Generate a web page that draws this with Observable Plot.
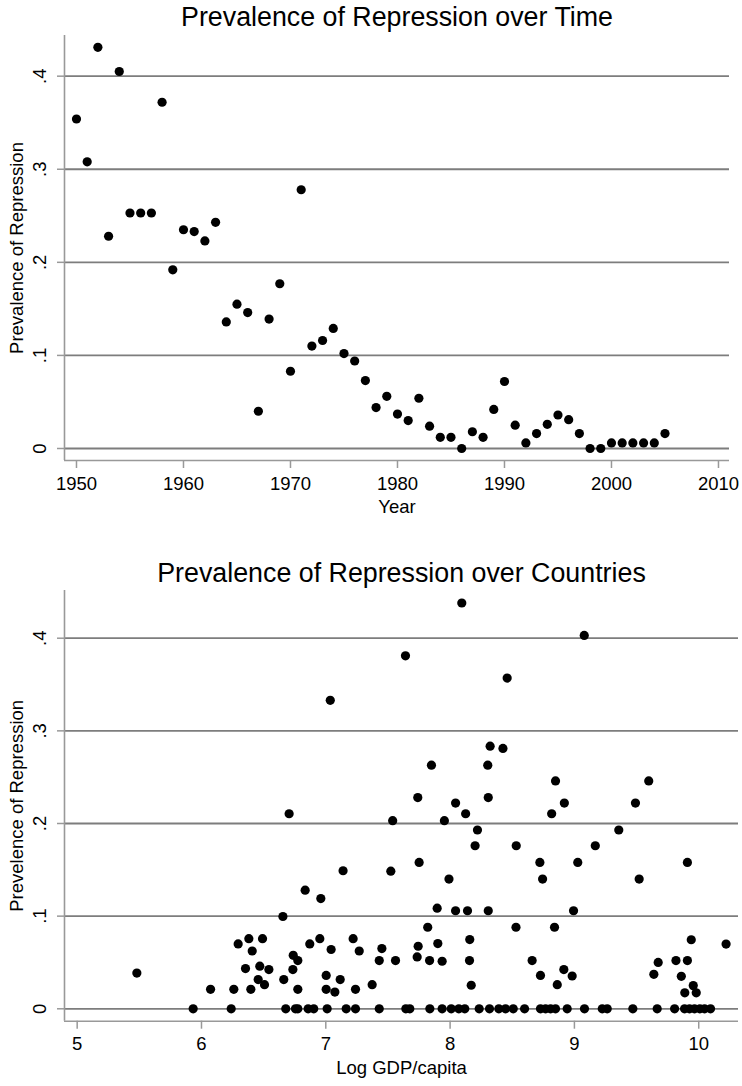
<!DOCTYPE html>
<html>
<head>
<meta charset="utf-8">
<script src="https://cdn.jsdelivr.net/npm/d3@7"></script>
<script src="https://cdn.jsdelivr.net/npm/@observablehq/plot@0.6"></script>
<style>
  html, body { margin: 0; padding: 0; background: #fff; }
  svg { display: block; }
</style>
</head>
<body>
<div id="chart"></div>
<script>
// ---------- Data: top panel ----------
const years = [1950,1951,1952,1953,1954,1955,1956,1957,1958,1959,1960,1961,1962,1963,1964,1965,1966,1967,1968,1969,1970,1971,1972,1973,1974,1975,1976,1977,1978,1979,1980,1981,1982,1983,1984,1985,1986,1987,1988,1989,1990,1991,1992,1993,1994,1995,1996,1997,1998,1999,2000,2001,2002,2003,2004,2005];
const prevYear = [0.354,0.308,0.431,0.228,0.405,0.253,0.253,0.253,0.372,0.192,0.235,0.233,0.223,0.243,0.136,0.155,0.146,0.040,0.139,0.177,0.083,0.278,0.110,0.116,0.129,0.102,0.094,0.073,0.044,0.056,0.037,0.030,0.054,0.024,0.012,0.012,0.000,0.018,0.012,0.042,0.072,0.025,0.006,0.016,0.026,0.036,0.031,0.016,0.000,0.000,0.006,0.006,0.006,0.006,0.006,0.016];
const yearTicks = [1950,1960,1970,1980,1990,2000,2010];

// ---------- Data: bottom panel ----------
const gdpZero = [5.933,6.239,6.678,6.756,6.775,6.858,6.903,7.011,7.164,7.239,7.430,7.644,7.676,7.837,7.936,8.009,8.070,8.118,8.234,8.317,8.392,8.446,8.508,8.599,8.727,8.768,8.808,8.848,8.942,9.081,9.224,9.264,9.470,9.666,9.806,9.886,9.926,9.966,10.009,10.047,10.095];
const gdpLow  = [5.48,6.073,6.260,6.397,6.295,6.381,6.491,6.408,6.354,6.469,6.542,6.456,6.507,6.662,6.738,6.775,6.735,6.775,6.871,6.952,7.043,7.003,7.003,7.073,7.116,7.220,7.269,7.239,7.373,7.451,7.430,7.561,7.743,7.735,7.835,7.901,7.936,8.158,8.156,8.170,8.660,8.727,8.915,8.982,8.862,9.639,9.674,9.817,9.909,9.860,9.94,10.22,9.956,9.888,9.980];
const prevLow = [0.0385,0.021,0.021,0.021,0.070,0.0757,0.0757,0.0624,0.0434,0.046,0.0423,0.0315,0.026,0.0315,0.0577,0.052,0.0423,0.021,0.070,0.0757,0.064,0.036,0.021,0.018,0.0315,0.0757,0.0624,0.021,0.026,0.065,0.052,0.052,0.0675,0.056,0.052,0.0704,0.0513,0.0747,0.052,0.0254,0.052,0.036,0.0423,0.0354,0.026,0.0372,0.050,0.052,0.052,0.035,0.0745,0.0698,0.025,0.0172,0.0172];
const gdpHigh  = [8.094,9.079,7.641,8.459,7.036,8.322,8.425,7.850,8.303,8.848,9.598,7.740,8.307,8.044,8.919,9.491,6.705,8.125,8.817,7.538,7.954,8.220,9.357,8.201,8.532,9.168,7.751,8.722,9.027,9.909,7.139,7.523,7.991,8.744,9.521,6.834,6.960,7.896,8.044,8.140,8.307,8.993,6.655,7.82,8.53,8.84];
const prevHigh = [0.438,0.403,0.381,0.357,0.333,0.2835,0.281,0.263,0.263,0.246,0.246,0.228,0.228,0.222,0.222,0.222,0.2105,0.2105,0.2105,0.203,0.203,0.193,0.193,0.176,0.176,0.176,0.158,0.158,0.158,0.158,0.149,0.1485,0.140,0.140,0.140,0.128,0.119,0.1086,0.1058,0.1058,0.1058,0.1058,0.0996,0.088,0.088,0.088];
const gdpTicks = [5,6,7,8,9,10];
const prevTicks = [0,0.1,0.2,0.3,0.4];

// ---------- Build tables ----------
const timeData = years.map((y, i) => ({year: y, prev: prevYear[i]}));
const countryData = [
  ...gdpZero.map(g => ({gdp: g, prev: 0})),
  ...gdpLow.map((g, i) => ({gdp: g, prev: prevLow[i]})),
  ...gdpHigh.map((g, i) => ({gdp: g, prev: prevHigh[i]}))
];

const FONT = "'Liberation Sans', Arial, Helvetica, sans-serif";
const GRID = "#7d7d7d";
const AXIS = "#999999";
const fmtY = d => d === 0 ? "0" : String(d).replace(/^0/, "");

function panel({data, xKey, xDomain, xTicks, yDomain, height, margins, title, titleDy, xLabel, yLabel}) {
  return Plot.plot({
    width: 742,
    height,
    marginLeft: margins[0], marginRight: margins[1], marginTop: margins[2], marginBottom: margins[3],
    style: {fontFamily: FONT, background: "white", color: "black"},
    x: {domain: xDomain},
    y: {domain: yDomain},
    marks: [
      Plot.ruleY(prevTicks, {stroke: GRID, strokeWidth: 1.8}),
      Plot.ruleX([xDomain[0]], {stroke: AXIS, strokeWidth: 1.6}),
      Plot.ruleY([yDomain[0]], {stroke: AXIS, strokeWidth: 1.6}),
      Plot.axisX({ticks: xTicks, tickSize: 8, tickPadding: 8, tickFormat: d => String(d), fontSize: 18.5, stroke: AXIS, strokeWidth: 1.5, label: null, fill: "black"}),
      Plot.axisY({ticks: prevTicks, tickSize: 7, tickFormat: () => "", stroke: AXIS, strokeWidth: 1.5, label: null}),
      Plot.text(prevTicks, {y: d => d, text: fmtY, frameAnchor: "left", textAnchor: "middle", lineAnchor: "middle", dx: -24, rotate: -90, fontSize: 18.5, fill: "black"}),
      Plot.text([yLabel], {frameAnchor: "left", textAnchor: "middle", lineAnchor: "middle", dx: -47, rotate: -90, fontSize: 18.5, fill: "black"}),
      Plot.text([xLabel], {frameAnchor: "bottom", textAnchor: "middle", lineAnchor: "middle", dy: 47, fontSize: 18.5, fill: "black"}),
      Plot.text([title], {frameAnchor: "top", textAnchor: "middle", lineAnchor: "middle", dy: titleDy, fontSize: 26.8, fill: "black"}),
      Plot.dot(data, {x: xKey, y: "prev", r: 4.6, fill: "black", stroke: "none"})
    ]
  });
}

const topPanel = panel({
  data: timeData, xKey: "year",
  xDomain: [1948.88, 2011.03], xTicks: yearTicks,
  yDomain: [-0.0129, 0.4437],
  height: 530, margins: [64, 13, 35, 70],
  title: "Prevalence of Repression over Time", titleDy: -18,
  xLabel: "Year", yLabel: "Prevalence of Repression"
});

const bottomPanel = panel({
  data: countryData, xKey: "gdp",
  xDomain: [4.898, 10.32], xTicks: gdpTicks,
  yDomain: [-0.0134, 0.4515],
  height: 556, margins: [64, 4, 60, 65.3],
  title: "Prevalence of Repression over Countries", titleDy: -17,
  xLabel: "Log GDP/capita", yLabel: "Prevelence of Repression"
});

document.getElementById("chart").append(topPanel, bottomPanel);
</script>
</body>
</html>
